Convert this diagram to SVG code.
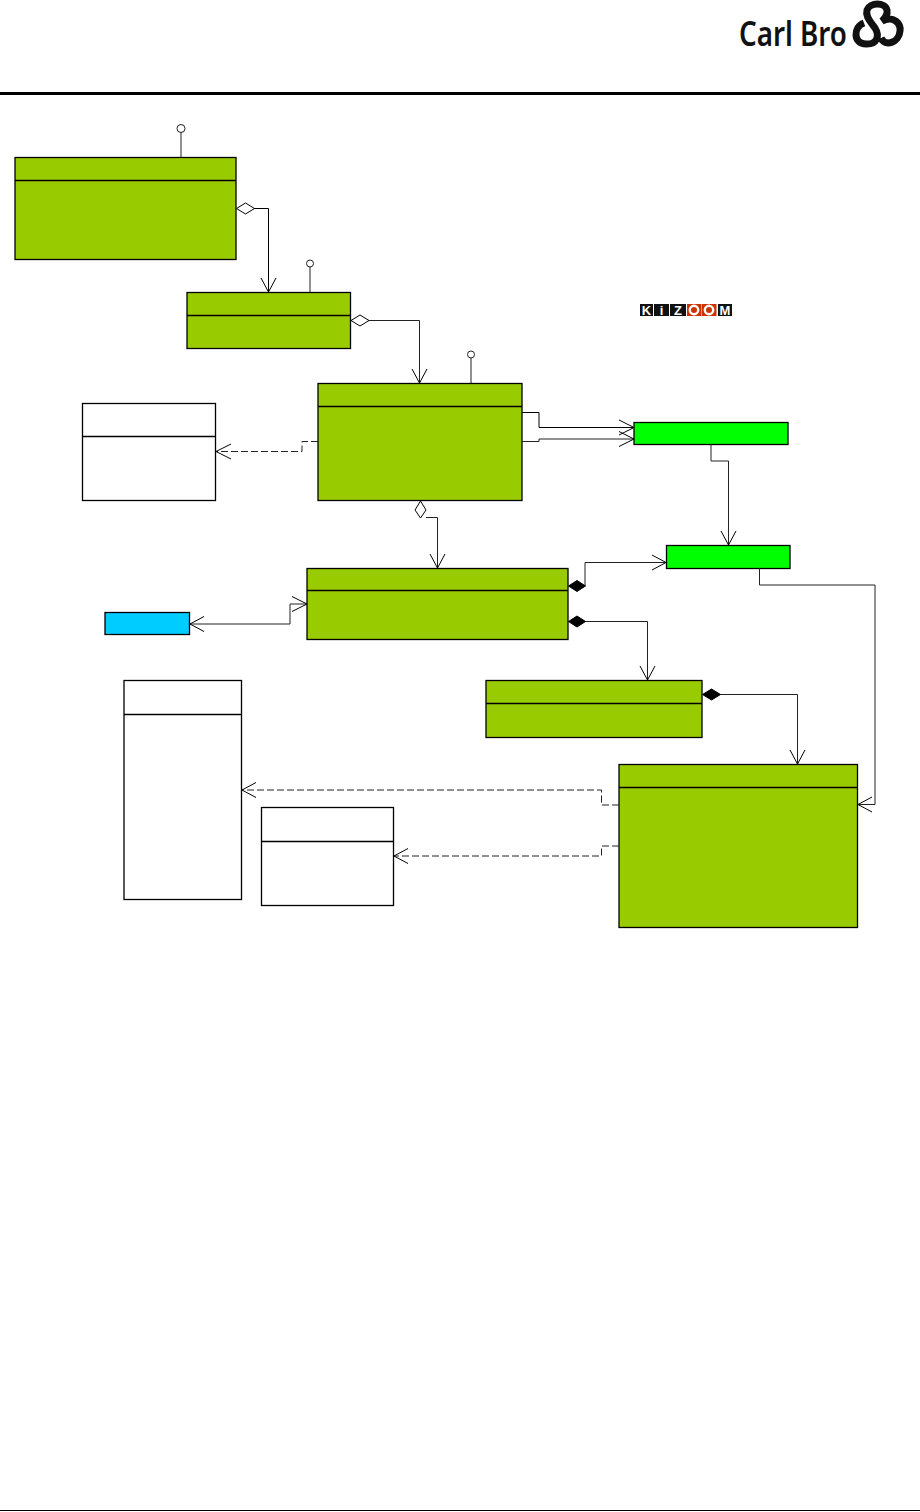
<svg xmlns="http://www.w3.org/2000/svg" width="920" height="1512" viewBox="0 0 920 1512">
<style>
.box{stroke:#000;stroke-width:1.3}
.olive{fill:#99cc00}.white{fill:#fff}.green{fill:#00ff00}.blue{fill:#00ccff}
.div{stroke:#000;stroke-width:1.3;fill:none}
.c{fill:none;stroke:#000;stroke-width:1}
.g{fill:none;stroke:#222;stroke-width:1}
.d{fill:none;stroke:#222;stroke-width:1;stroke-dasharray:7 3}
.a{fill:none;stroke:#000;stroke-width:1}
.od{fill:#fff;stroke:#000;stroke-width:1}
.fd{fill:#000;stroke:#000;stroke-width:1}
.lol{fill:#fff;stroke:#222;stroke-width:1}
.kz{font-family:"Liberation Sans",Arial,sans-serif;font-weight:700;font-size:13px;text-anchor:middle;fill:#fff}
.k{fill:#111}.o{fill:#cc3300}
</style>
<g id="header">
<rect x="0" y="92" width="920" height="3" fill="#000"/>
<rect x="0" y="1510" width="920" height="1" fill="#000"/>
</g>
<g id="logo">
<text x="739" y="46" font-family="'Noto Sans','Liberation Sans',sans-serif" font-size="34" font-weight="600" textLength="108" lengthAdjust="spacingAndGlyphs" fill="#111">Carl Bro</text>
<path fill="none" stroke="#111" stroke-width="7" d="M864 23C853 27 853 44 866 44C877 44.500 880 36 875 28C871 22 865 17 867 10C870 2 885 2 887 10C888 15 885 18 882 21C894 15 901 24 900 31C899 43 885 47 881 38"/>
</g>
<g id="kizoom">
<rect class="k" x="640" y="304" width="13" height="12"/><rect class="k" x="654" y="304" width="15" height="12"/><rect class="k" x="670" y="304" width="16" height="12"/>
<rect class="o" x="687" y="304" width="14.500" height="12"/><rect class="o" x="702" y="304" width="14.500" height="12"/>
<rect class="k" x="718" y="304" width="14" height="12"/>
<text class="kz" x="646.500" y="315">K</text><text class="kz" x="661.500" y="315">i</text><text class="kz" x="678" y="315">Z</text>
<circle cx="694" cy="310" r="4.200" fill="none" stroke="#fff" stroke-width="2.400"/><circle cx="709" cy="310" r="4.200" fill="none" stroke="#fff" stroke-width="2.400"/>
<text class="kz" x="725" y="315">M</text>
</g>
<g id="node-a"><rect class="box olive" x="15" y="157.500" width="221" height="102"/><path class="div" d="M15 180.500H236"/></g>
<g id="node-b"><rect class="box olive" x="187" y="292.500" width="163.500" height="56"/><path class="div" d="M187 315.500H350.500"/></g>
<g id="node-c"><rect class="box olive" x="318" y="383.500" width="204" height="117"/><path class="div" d="M318 406.500H522"/></g>
<g id="node-d"><rect class="box white" x="82.500" y="403.500" width="133" height="97"/><path class="div" d="M82.500 436.500H215.500"/></g>
<g id="node-e"><rect class="box olive" x="307" y="568.500" width="261" height="71"/><path class="div" d="M307 590.500H568"/></g>
<g id="node-f"><rect class="box blue" x="105" y="612.500" width="84.500" height="22"/></g>
<g id="node-g"><rect class="box white" x="124" y="680.500" width="117.500" height="219"/><path class="div" d="M124 714.500H241.500"/></g>
<g id="node-h"><rect class="box white" x="261.500" y="807.500" width="132" height="98"/><path class="div" d="M261.500 841.500H393.500"/></g>
<g id="node-i"><rect class="box olive" x="486" y="680.500" width="216" height="57"/><path class="div" d="M486 703.500H702"/></g>
<g id="node-j"><rect class="box olive" x="619" y="764.500" width="238.500" height="163"/><path class="div" d="M619 787.500H857.500"/></g>
<g id="node-k"><rect class="box green" x="634" y="422.500" width="154" height="22"/></g>
<g id="node-l"><rect class="box green" x="666.500" y="545.500" width="123.500" height="23"/></g>
<g id="connectors">
<path class="g" d="M181 157V132"/><circle class="lol" cx="181" cy="128.500" r="4"/>
<path class="g" d="M310 292V267"/><circle class="lol" cx="310" cy="263.500" r="3.500"/>
<path class="g" d="M471 383V358"/><circle class="lol" cx="471" cy="354.500" r="3.500"/>

<path class="c" d="M254 208.500H268.500V292"/><path class="od" d="M236.500 208.500L245.500 203L254.500 208.500L245.500 214Z"/><path class="a" d="M261 278L268.500 292L276 278"/>
<path class="g" d="M369 320.500H419.500V383"/><path class="od" d="M351 320.500L360 315L369 320.500L360 326Z"/><path class="a" d="M412 369L419.500 383L427 369"/>

<path class="c" d="M522 412.500H539V427.500H634"/><path class="a" d="M619 420L634 427.500L619 435"/>
<path class="g" d="M522 441.500H539V439H634"/><path class="a" d="M619 431.500L634 439L619 446.500"/>

<path class="d" d="M318 441.500H302V451.500H217"/><path class="a" d="M231 444L216 451.500L231 459"/>

<path class="g" d="M711 444V461H728.500V545"/><path class="a" d="M721 531L728.500 545L736 531"/>

<path class="g" d="M426 517.500H437.500V568"/><path class="od" d="M420.500 501L426 510L420.500 518L415 510Z"/><path class="a" d="M430 554L437.500 568L445 554"/>

<path class="g" d="M585 586V562.500H666"/><path class="fd" d="M568.500 586L577 580.500L585.500 586L577 591.500Z"/><path class="a" d="M652 555L666 562.500L652 570"/>
<path class="g" d="M585 621.500H647.500V680"/><path class="fd" d="M568.500 621.500L577 616L585.500 621.500L577 627Z"/><path class="a" d="M640 666L647.500 680L655 666"/>

<path class="g" d="M190 624H290V604H307"/><path class="a" d="M204 616.500L190 624L204 631.500"/><path class="a" d="M292 596.500L307 604L292 611.500"/>

<path class="g" d="M720 694.500H797.500V764"/><path class="fd" d="M702.500 694.500L711.500 689L720.500 694.500L711.500 700Z"/><path class="a" d="M790 750L797.500 764L805 750"/>

<path class="g" d="M759.500 568V585H875V804.500H858"/><path class="a" d="M872 797L858 804.500L872 812"/>

<path class="d" d="M619 805H601.500V790H242"/><path class="a" d="M256 782.500L242 790L256 797.500"/>
<path class="d" d="M619 846H601.500V856H394"/><path class="a" d="M408 848.500L394 856L408 863.500"/>
</g>
</svg>
